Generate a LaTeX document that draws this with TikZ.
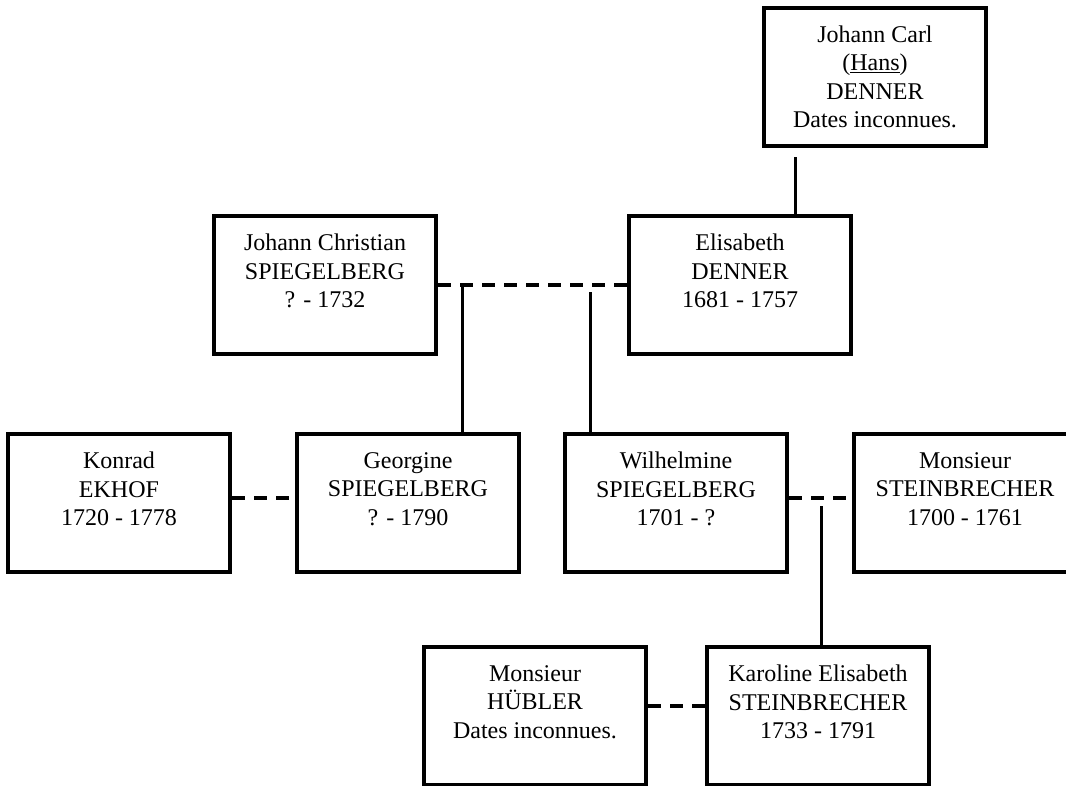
\documentclass[tikz,border=0pt]{standalone}
\usepackage{fontspec}
\setmainfont{Liberation Serif}
\usepackage{tikz}
\usetikzlibrary{positioning}

\begin{document}
\begin{tikzpicture}[
  x=1pt, y=-1pt,
  person/.style={rectangle, draw, line width=4pt,
                 minimum width=222pt, minimum height=138pt,
                 font=\fontsize{24}{28.5}\selectfont, align=center},
  link/.style={line width=3pt},
  wed/.style={line width=3.5pt, dash pattern=on 13pt off 9pt}
]
\useasboundingbox (0,0) rectangle (1066,785);
\clip (0,0) rectangle (1066,785);

% generations
\node[person] (carl)   at (875,77)  {Johann Carl\\(\underline{Hans})\\DENNER\\Dates inconnues.};
\node[person] (chris)  at (325,285) {Johann Christian\\SPIEGELBERG\\? - 1732\\[0pt]};
\node[person] (elis)   at (740,285) {Elisabeth\\DENNER\\1681 - 1757\\[0pt]};
\node[person] (konrad) at (119,503) {Konrad\\EKHOF\\1720 - 1778\\[0pt]};
\node[person] (georg)  at (408,503) {Georgine\\SPIEGELBERG\\? - 1790\\[0pt]};
\node[person] (wilh)   at (676,503) {Wilhelmine\\SPIEGELBERG\\1701 - ?\\[0pt]};
\node[person] (stein)  at (965,503) {Monsieur\\STEINBRECHER\\1700 - 1761\\[0pt]};
\node[person] (hubler) at (535,716) {Monsieur\\HÜBLER\\Dates inconnues.\\[0pt]};
\node[person] (karol)  at (818,716) {Karoline Elisabeth\\STEINBRECHER\\1733 - 1791\\[0pt]};

\coordinate (ctop) at (795,157);
\coordinate (cg)   at (462,285);
\coordinate (cw)   at (590,292);
\coordinate (ck)   at (821,506);

\draw[link] (ctop) -- (ctop |- elis.north);
\draw[wed]  (chris.east) -- (elis.west);
\draw[link] (cg) -- (cg |- georg.north);
\draw[link] (cw) -- (cw |- wilh.north);
\draw[wed]  ([yshift=5pt]konrad.east) -- ([yshift=5pt]georg.west);
\draw[wed]  ([yshift=5pt]wilh.east) -- ([yshift=5pt]stein.west);
\draw[link] (ck) -- (ck |- karol.north);
\draw[wed]  ([yshift=10pt]hubler.east) -- ([yshift=10pt]karol.west);

\end{tikzpicture}
\end{document}
